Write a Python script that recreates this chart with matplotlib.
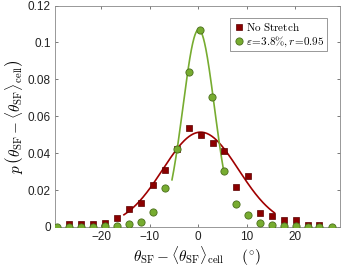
import numpy as np
import matplotlib
matplotlib.use("Agg")
import matplotlib.pyplot as plt

plt.rcParams["mathtext.fontset"] = "cm"
plt.rcParams["font.family"] = "Liberation Sans"

# binned distributions (bin centres in degrees)
x_red = [-26.6, -24.2, -21.7, -19.2, -16.7, -14.2, -11.8, -9.3, -6.9, -4.4,
         -1.9, 0.5, 3.0, 5.4, 7.8, 10.3, 12.7, 15.2, 17.7, 20.1, 22.6, 25.0]
p_red = [0.0016, 0.0016, 0.0016, 0.0020, 0.0047, 0.0096, 0.0128, 0.0228, 0.0308, 0.0420,
         0.0539, 0.0499, 0.0456, 0.0411, 0.0216, 0.0276, 0.0076, 0.0057, 0.0036, 0.0036,
         0.0008, 0.0013]

x_green = [-29.1, -26.6, -24.2, -21.7, -19.2, -16.7, -14.2, -11.8, -9.3, -6.9, -4.4, -1.9,
           0.4, 2.9, 5.4, 7.8, 10.3, 12.7, 15.2, 17.7, 20.1, 22.6, 25.0, 27.6]
p_green = [0.0, 0.0, 0.0, 0.0, 0.0005, 0.0005, 0.0016, 0.0027, 0.0080, 0.0210, 0.0423, 0.0838,
           0.1070, 0.0704, 0.0304, 0.0124, 0.0067, 0.0024, 0.0011, 0.0006, 0.0005, 0.0, 0.0, 0.0]

# gaussian fits: amplitude, centre, width, range
fit_red = (0.0514, 0.5, 7.8, -15.3, 15.7)
fit_green = (0.107, 0.1, 3.25, -5.4, 5.2)

red = "#8b0000"
green = "#77ac30"

fig = plt.figure(figsize=(3.44, 2.67), dpi=100)
ax = fig.add_axes([0.16, 0.15, 0.828, 0.829])

for (a, mu, s, lo, hi), c in [(fit_red, "#a00000"), (fit_green, green)]:
    t = np.linspace(lo, hi, 200)
    ax.plot(t, a * np.exp(-(t - mu) ** 2 / (2 * s ** 2)), color=c, lw=1.2, zorder=2)

ax.plot(x_red, p_red, "s", ms=4.0, color=red, mec="#5a0000", mew=0.5,
        label=r"$\mathrm{No\ Stretch}$", zorder=3)
ax.plot(x_green, p_green, "o", ms=5.2, color=green, mec="#4a6e1c", mew=0.6,
        label=r"$\varepsilon\!=\!3.8\%, r\!=\!0.95$", zorder=4)

ax.set_xlim(-29.5, 29.2)
ax.set_ylim(0, 0.12)
ax.set_xticks([-20, -10, 0, 10, 20])
ax.set_yticks([0, 0.02, 0.04, 0.06, 0.08, 0.1, 0.12])
ax.set_yticklabels(["0", "0.02", "0.04", "0.06", "0.08", "0.1", "0.12"])
ax.tick_params(direction="in", top=True, right=True, labelsize=8.5,
               length=2.5, width=0.5, color="#444444", labelcolor="#222222", pad=3)
for sp in ax.spines.values():
    sp.set_color("#888888")
    sp.set_linewidth(0.6)

ax.set_xlabel(r"$\theta_{\rm SF} - \langle\theta_{\rm SF}\rangle_{\rm cell}\quad\ (^{\circ})$",
              fontsize=11, labelpad=1)
ax.set_ylabel(r"$p\,\left(\theta_{\rm SF} - \langle\theta_{\rm SF}\rangle_{\rm cell}\right)$",
              fontsize=11, labelpad=1)

leg = ax.legend(loc="upper right", fontsize=8,
                handletextpad=0.1, handlelength=1.1, borderpad=0.25, labelspacing=0.15,
                fancybox=False, framealpha=1, bbox_to_anchor=(0.975, 0.97))
leg.get_frame().set_edgecolor("#888888")
leg.get_frame().set_linewidth(0.6)

fig.savefig("out.png", dpi=100)
